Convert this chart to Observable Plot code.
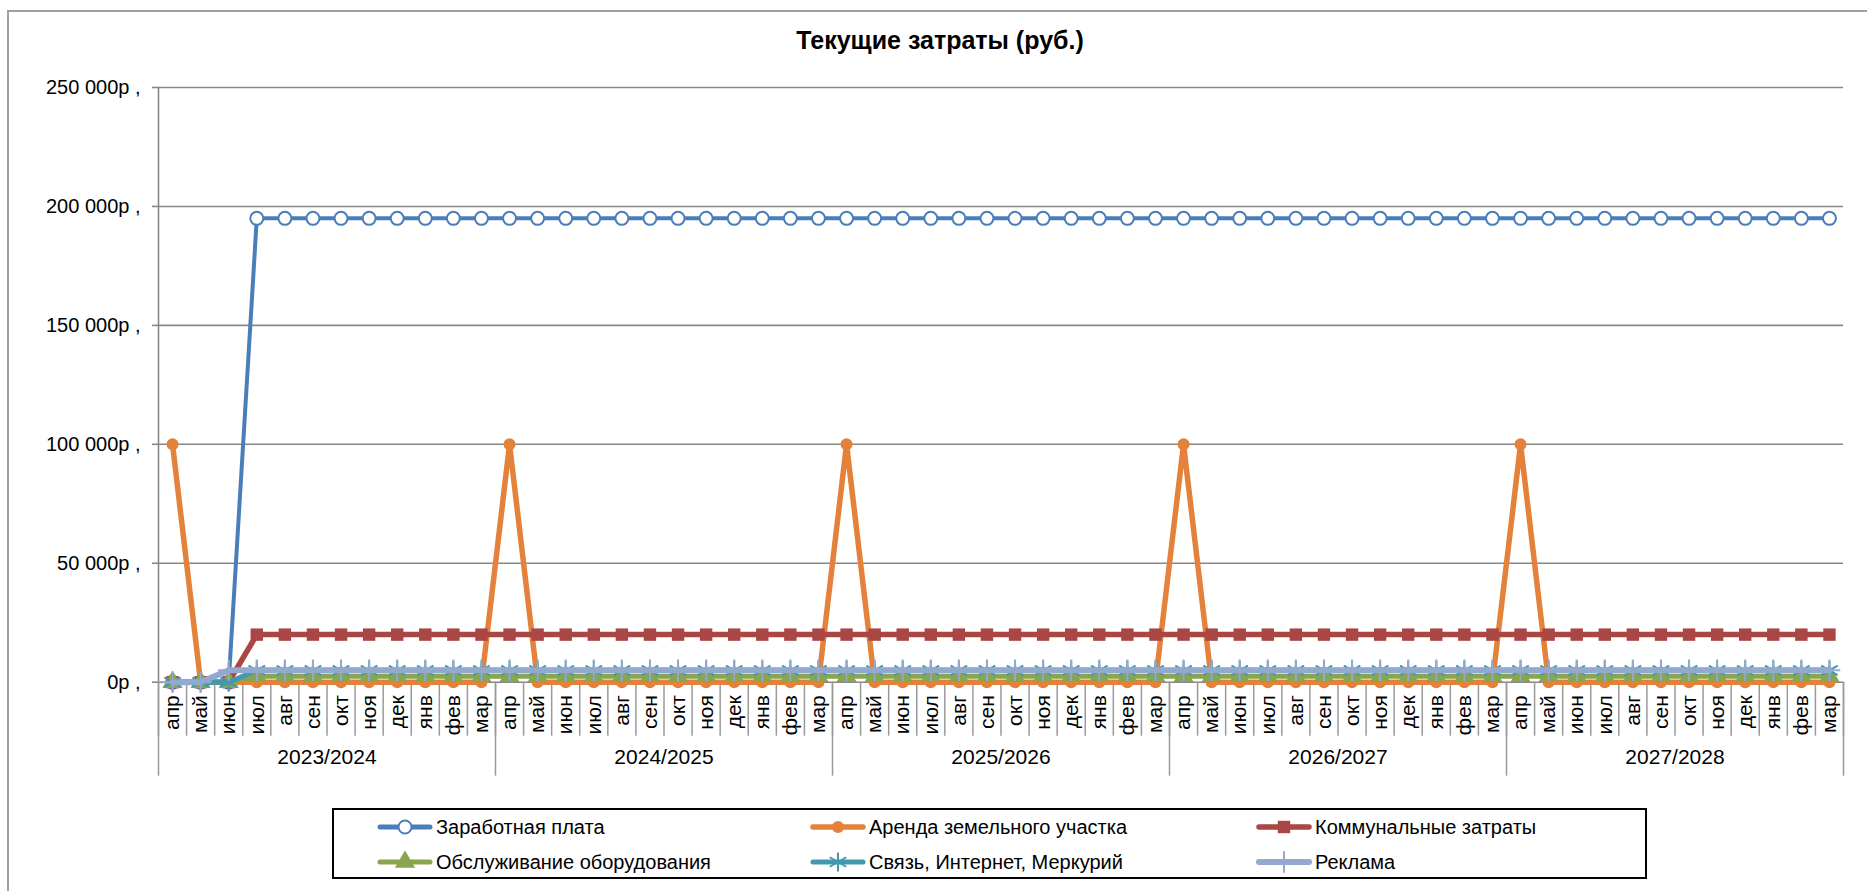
<!DOCTYPE html>
<html><head><meta charset="utf-8">
<script src="https://cdn.jsdelivr.net/npm/d3@7"></script>
<script src="https://cdn.jsdelivr.net/npm/@observablehq/plot@0.6"></script>
<style>
html,body{margin:0;padding:0;background:#fff;overflow:hidden;}
#wrap{position:relative;width:1867px;height:891px;font-family:"Liberation Sans",Arial,sans-serif;overflow:hidden;}
#frame{position:absolute;left:7px;top:10px;width:1900px;height:1000px;border-left:2px solid #a0a0a0;border-top:2px solid #a0a0a0;}
#title{position:absolute;left:0;width:1880px;top:26px;text-align:center;font-weight:bold;font-size:25px;}
#chart{position:absolute;left:0;top:0;}
#legend{position:absolute;left:332px;top:808px;width:1311px;height:67px;border:2px solid #000;background:#fff;}
.item{position:absolute;display:flex;align-items:center;font-size:20px;height:30px;white-space:nowrap;}
.item svg{margin-right:3px;}
</style></head>
<body>
<div id="wrap">
  <div id="frame"></div>
  <div id="chart"></div>
  <div id="title">Текущие затраты (руб.)</div>
  <div id="legend"></div>
</div>
<script>
// ---- data ----
const months = ["апр","май","июн","июл","авг","сен","окт","ноя","дек","янв","фев","мар"];
const years = ["2023/2024","2024/2025","2025/2026","2026/2027","2027/2028"];
const yTicks = [0, 50000, 100000, 150000, 200000, 250000];
const yTickLabels = ["0р ,", "50 000р ,", "100 000р ,", "150 000р ,", "200 000р ,", "250 000р ,"];

const salary = [
  0,0,0,195000,195000,195000,195000,195000,195000,195000,195000,195000,
  195000,195000,195000,195000,195000,195000,195000,195000,195000,195000,195000,195000,
  195000,195000,195000,195000,195000,195000,195000,195000,195000,195000,195000,195000,
  195000,195000,195000,195000,195000,195000,195000,195000,195000,195000,195000,195000,
  195000,195000,195000,195000,195000,195000,195000,195000,195000,195000,195000,195000];
const rent = [
  100000,0,0,0,0,0,0,0,0,0,0,0,
  100000,0,0,0,0,0,0,0,0,0,0,0,
  100000,0,0,0,0,0,0,0,0,0,0,0,
  100000,0,0,0,0,0,0,0,0,0,0,0,
  100000,0,0,0,0,0,0,0,0,0,0,0];
const utilities = [
  0,0,0,20000,20000,20000,20000,20000,20000,20000,20000,20000,
  20000,20000,20000,20000,20000,20000,20000,20000,20000,20000,20000,20000,
  20000,20000,20000,20000,20000,20000,20000,20000,20000,20000,20000,20000,
  20000,20000,20000,20000,20000,20000,20000,20000,20000,20000,20000,20000,
  20000,20000,20000,20000,20000,20000,20000,20000,20000,20000,20000,20000];
const equipment = [
  0,0,0,2500,2500,2500,2500,2500,2500,2500,2500,2500,
  2500,2500,2500,2500,2500,2500,2500,2500,2500,2500,2500,2500,
  2500,2500,2500,2500,2500,2500,2500,2500,2500,2500,2500,2500,
  2500,2500,2500,2500,2500,2500,2500,2500,2500,2500,2500,2500,
  2500,2500,2500,2500,2500,2500,2500,2500,2500,2500,2500,2500];
const telecom = [
  0,0,0,5000,5000,5000,5000,5000,5000,5000,5000,5000,
  5000,5000,5000,5000,5000,5000,5000,5000,5000,5000,5000,5000,
  5000,5000,5000,5000,5000,5000,5000,5000,5000,5000,5000,5000,
  5000,5000,5000,5000,5000,5000,5000,5000,5000,5000,5000,5000,
  5000,5000,5000,5000,5000,5000,5000,5000,5000,5000,5000,5000];
const ads = [
  0,0,5000,5000,5000,5000,5000,5000,5000,5000,5000,5000,
  5000,5000,5000,5000,5000,5000,5000,5000,5000,5000,5000,5000,
  5000,5000,5000,5000,5000,5000,5000,5000,5000,5000,5000,5000,
  5000,5000,5000,5000,5000,5000,5000,5000,5000,5000,5000,5000,
  5000,5000,5000,5000,5000,5000,5000,5000,5000,5000,5000,5000];

const seriesNames = ["Заработная плата","Аренда земельного участка","Коммунальные затраты",
  "Обслуживание оборудования","Связь, Интернет, Меркурий","Реклама"];
const seriesValues = [salary, rent, utilities, equipment, telecom, ads];
const styles = [
  {color:"#4A7EBB", width:4, symbol:"circle", r:6.5, fill:"#fff", stroke:"#4A7EBB", sw:2},
  {color:"#E4823B", width:5.5, symbol:"circle", r:6, fill:"#E4823B", stroke:"none", sw:0},
  {color:"#AA4643", width:5.5, symbol:"square", r:7, fill:"#AA4643", stroke:"none", sw:0},
  {color:"#89A54E", width:5, symbol:"triangle", r:7.5, fill:"#89A54E", stroke:"none", sw:0},
  {color:"#4198AF", width:5, symbol:"asterisk", r:9, fill:"none", stroke:"#4198AF", sw:2},
  {color:"#93A9CF", width:6, symbol:"plus", r:7, fill:"none", stroke:"#93A9CF", sw:2}
];

// ---- tables ----
const cats = [];
years.forEach((yr, k) => months.forEach((m, j) => cats.push({x: k*12 + j + 0.5, month: m})));
const yearRows = years.map((yr, k) => ({x: k*12 + 6, label: yr}));
const monthBounds = d3.range(cats.length + 1);
const yearBounds = d3.range(years.length + 1).map(k => k*12);

const seriesMarks = [];
seriesValues.forEach((vals, s) => {
  const st = styles[s];
  const rows = vals.map((v, i) => ({x: cats[i].x, y: v}));
  seriesMarks.push(Plot.line(rows, {x:"x", y:"y", stroke: st.color, strokeWidth: st.width, strokeLinejoin:"round", strokeLinecap:"round"}));
  seriesMarks.push(Plot.dot(rows, {x:"x", y:"y", symbol: st.symbol, r: st.r, fill: st.fill, stroke: st.stroke, strokeWidth: st.sw}));
});

const H = 800;
const chart = Plot.plot({
  width: 1867, height: H,
  marginLeft: 158, marginRight: 24, marginTop: 87, marginBottom: H - 681.7,
  style: {fontFamily: '"Liberation Sans", Arial, sans-serif', background: "transparent", color:"#000"},
  x: {type:"linear", domain:[0, cats.length], axis:null},
  y: {domain:[0, 250000], axis:null},
  marks: [
    Plot.ruleY(yTicks, {stroke:"#878787", strokeWidth:1.6}),
    Plot.axisY({ticks: yTicks, tickSize: 6, tickPadding: 12, tickFormat: d => yTickLabels[yTicks.indexOf(d)], fontSize: 20, label: null, stroke:"#878787", strokeWidth:1.6}),
    Plot.axisX({ticks: monthBounds, tickSize: 54, tickFormat: () => "", label: null, stroke:"#9a9a9a", strokeWidth:1.5}),
    Plot.axisX({ticks: yearBounds, tickSize: 94, tickFormat: () => "", label: null, stroke:"#9a9a9a", strokeWidth:1.5}),
    Plot.ruleX([0], {stroke:"#878787", strokeWidth:1.6}),
    Plot.text(cats, {x:"x", text:"month", frameAnchor:"bottom", rotate:-90, textAnchor:"end", lineAnchor:"middle", dy: 13, fontSize: 21, fill:"#000"}),
    Plot.text(yearRows, {x:"x", text:"label", frameAnchor:"bottom", dy: 82, fontSize: 21, fill:"#000"}),
    ...seriesMarks
  ]
});
document.getElementById("chart").appendChild(chart);

// ---- legend ----
const legend = document.getElementById("legend");
const colX = [43, 476, 922];
const rowY = [2, 37];
const symPath = (name, r) => {
  const map = {circle: d3.symbolCircle, square: d3.symbolSquare, triangle: d3.symbolTriangle, asterisk: d3.symbolAsterisk, plus: d3.symbolPlus};
  return d3.symbol(map[name], Math.PI * r * r)();
};
seriesNames.forEach((name, s) => {
  const st = styles[s];
  const div = document.createElement("div");
  div.className = "item";
  div.style.left = colX[s % 3] + "px";
  div.style.top = rowY[Math.floor(s / 3)] + "px";
  div.innerHTML = `<svg width="56" height="22" viewBox="0 0 56 22"><line x1="3" y1="11" x2="53" y2="11" stroke="${st.color}" stroke-width="${Math.max(st.width,5)}" stroke-linecap="round"/><path transform="translate(28,11)" d="${symPath(st.symbol, st.r)}" fill="${st.fill}" stroke="${st.stroke}" stroke-width="${st.sw}"/></svg><span>${name}</span>`;
  legend.appendChild(div);
});
</script>
</body></html>
